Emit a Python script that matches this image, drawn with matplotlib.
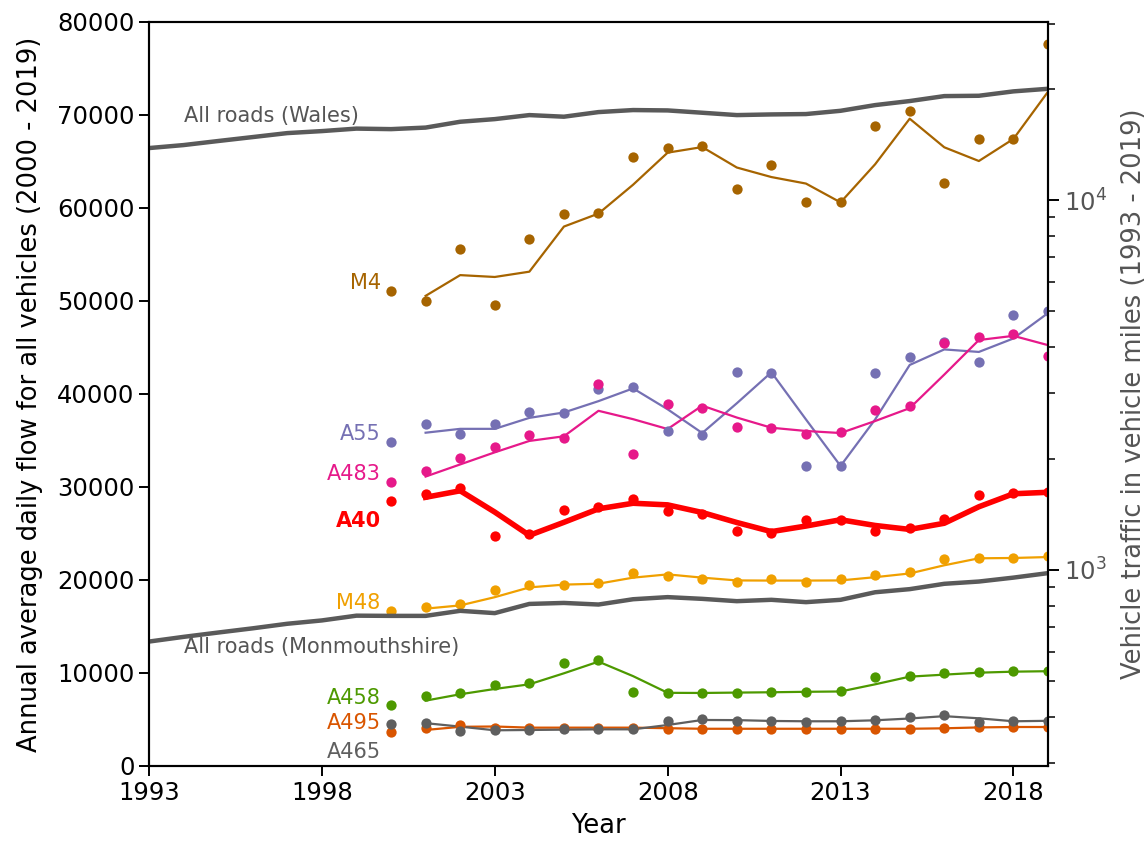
import numpy as np
import pandas as pd
import matplotlib
matplotlib.use("Agg")
import matplotlib.pyplot as plt

# Count-point years and traffic-statistics years
road_years = list(range(2000, 2020))
all_years = list(range(1993, 2020))

# Annual average daily flow, all vehicles
m4 = [51100, 50000, 55560, 49600, 56700, 59300, 59500, 65500, 66400, 66700,
      62000, 64650, 60600, 60600, 68800, 70400, 62650, 67450, 67400, 77600]
a55 = [34870, 36800, 35700, 36800, 38060, 37960, 40500, 40700, 36000, 35600,
       42400, 42260, 32260, 32260, 42260, 43980, 45600, 43440, 48500, 48900]
a483 = [30540, 31700, 33150, 34300, 35600, 35300, 41080, 33500, 38960, 38530,
        36400, 36340, 35700, 35900, 38280, 38670, 45500, 46100, 46400, 44100]
a40 = [28500, 29280, 29900, 24700, 24900, 27500, 27800, 28700, 27450, 27060,
       25300, 25100, 26500, 26450, 25270, 25600, 26600, 29140, 29400, 29460]
m48 = [16700, 17130, 17400, 18900, 19500, 19500, 19700, 20800, 20400, 20100,
       19800, 20070, 19800, 20100, 20500, 20900, 22260, 22400, 22330, 22600]
a458 = [6520, 7530, 7890, 8670, 8890, 11040, 11400, 7920, 7810, 7890,
        7890, 7960, 7990, 8030, 9530, 9680, 9960, 10100, 10180, 10200]
a495 = [3690, 4050, 4370, 4120, 4120, 4120, 4120, 4120, 4000, 4000,
        4000, 4000, 4000, 4000, 4000, 4000, 4100, 4190, 4190, 4190]
a465 = [4550, 4660, 3800, 3870, 3870, 3940, 3940, 3940, 4870, 5020,
        4840, 4840, 4770, 4840, 4980, 5230, 5480, 4770, 4840, 4870]

# Vehicle traffic in vehicle miles (millions)
wales_miles = [13820, 14080, 14440, 14800, 15170, 15360, 15600, 15550, 15700,
               16280, 16550, 16970, 16800, 17290, 17510, 17470, 17220, 16970,
               17040, 17080, 17430, 18060, 18520, 19100, 19140, 19670, 19990]
monmouth_miles = [640, 659, 677, 695, 715, 730, 752, 751, 751, 775, 764, 809,
                  814, 806, 833, 844, 835, 823, 830, 818, 830, 870, 887, 917,
                  930, 953, 980]

road_names = ["M4", "A55", "A483", "A40", "M48", "A458", "A495", "A465"]
road_values = [m4, a55, a483, a40, m48, a458, a495, a465]

road_colors = {"M4": "#a66400", "A55": "#7570b3", "A483": "#e6198a",
               "A40": "#ff0000", "M48": "#f0a000", "A458": "#4d9900",
               "A495": "#d95500", "A465": "#5f5f5f"}
label_y = {"M4": 51900, "A55": 35660, "A483": 31400, "A40": 26300,
           "M48": 17500, "A458": 7300, "A495": 4660, "A465": 1540}

grey = "#555555"

fig = plt.figure(figsize=(11.46, 8.42), dpi=100)
ax = fig.add_axes([0.130, 0.0903, 0.7845, 0.8836])
ax2 = ax.twinx()

for name, vals in zip(road_names, road_values):
    col = road_colors[name]
    s = pd.Series(vals, index=road_years)
    smooth = s.rolling(2).mean().dropna()
    lw = 4.0 if name == "A40" else 1.6
    ax.plot(smooth.index, smooth.values, color=col, lw=lw, zorder=3)
    ax.scatter(s.index, s.values, s=55, color=col, zorder=4, linewidths=0)
    ax.text(1999.7, label_y[name], name, color=col, ha="right", va="center",
            fontsize=15, fontweight="bold" if name == "A40" else "normal")

ax.set_xlim(1993, 2019)
ax.set_ylim(0, 80000)
ax.set_xticks(range(1993, 2019, 5))
ax.set_yticks(range(0, 80001, 10000))
ax.tick_params(axis="both", labelsize=17.5, length=7, width=1.4)
ax.set_xlabel("Year", fontsize=18.5, labelpad=6)
ax.set_ylabel("Annual average daily flow for all vehicles (2000 - 2019)",
              fontsize=18.5, labelpad=10)
for sp in ax.spines.values():
    sp.set_linewidth(1.5)

ax2.plot(all_years, wales_miles, color="#5a5a5a", lw=3.2, zorder=2)
ax2.plot(all_years, monmouth_miles, color="#5a5a5a", lw=3.2, zorder=2)
ax2.set_yscale("log")
ax2.set_ylim(295, 30300)
ax2.tick_params(axis="y", which="major", labelsize=17.5, length=8, width=1.4,
                labelcolor=grey)
ax2.tick_params(axis="y", which="minor", length=5, width=1.1)
ax2.set_ylabel("Vehicle traffic in vehicle miles (1993 - 2019)", fontsize=18.5,
               color=grey, labelpad=10)
for sp in ax2.spines.values():
    sp.set_linewidth(1.5)

ax.text(1994.0, 69900, "All roads (Wales)", color=grey, fontsize=15,
        ha="left", va="center")
ax.text(1994.0, 12830, "All roads (Monmouthshire)", color=grey, fontsize=15,
        ha="left", va="center")

fig.savefig("out.png", dpi=100)
